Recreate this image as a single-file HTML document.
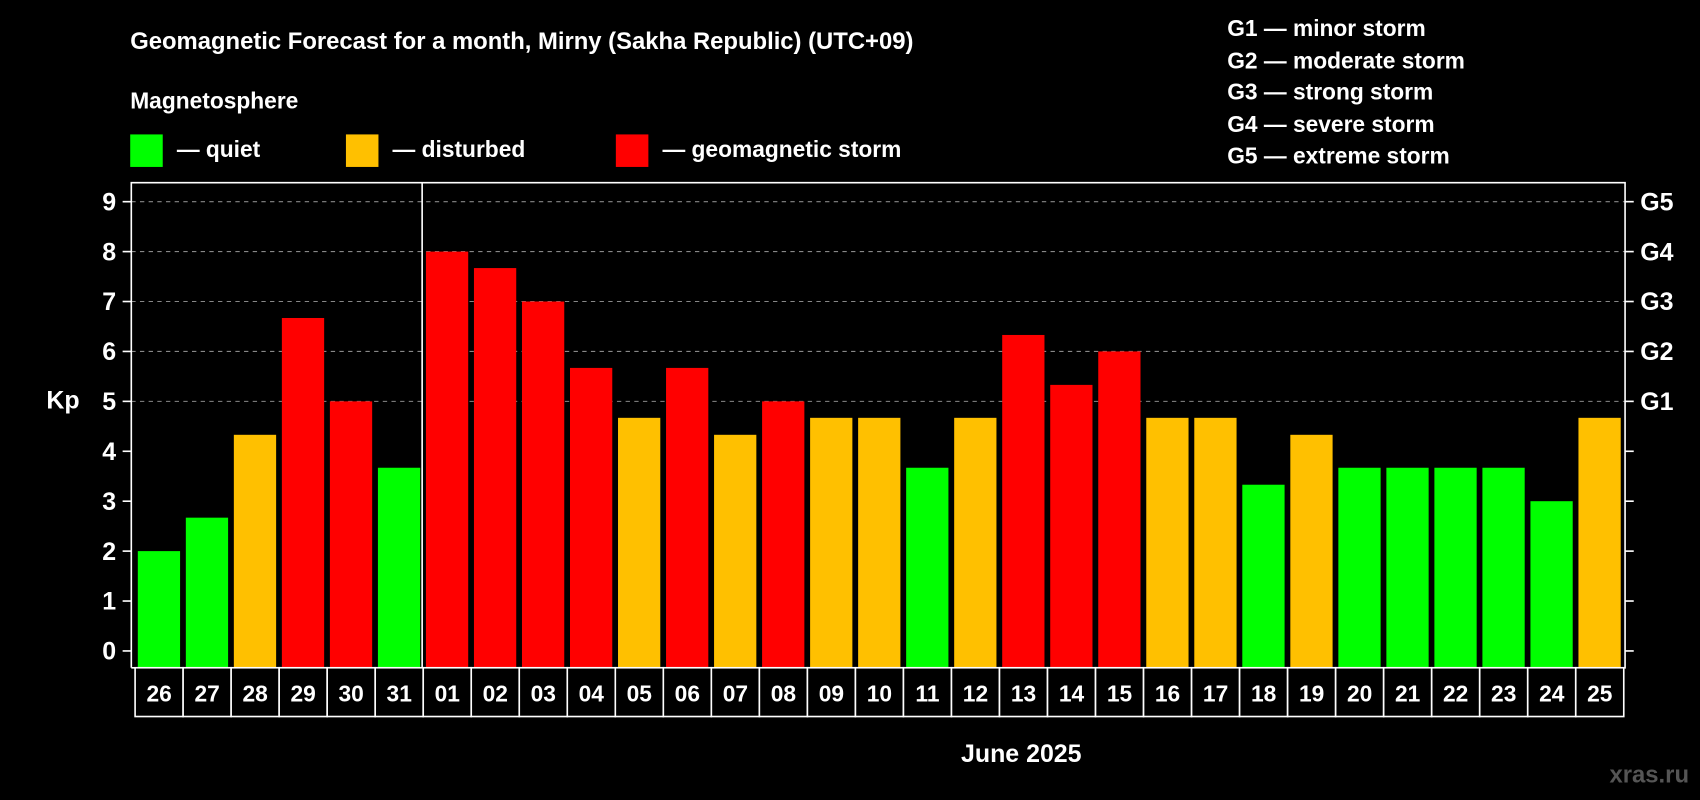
<!DOCTYPE html>
<html><head><meta charset="utf-8"><style>
html,body{margin:0;padding:0;background:#000;}
svg{display:block;font-family:"Liberation Sans",Arial,sans-serif;font-weight:bold;}
</style></head><body>
<svg id="chart" width="1700" height="800" viewBox="0 0 1568 738" xmlns="http://www.w3.org/2000/svg">
<rect width="1568" height="738" fill="#000"/>
<text x="120" y="45" fill="#fff" font-size="22">Geomagnetic Forecast for a month, Mirny (Sakha Republic) (UTC+09)</text>
<text x="120" y="100" fill="#fff" font-size="21">Magnetosphere</text>
<g><rect x="120" y="124" width="30" height="30" fill="#00ff00"/><text x="163" y="145" fill="#fff" font-size="21">— quiet</text></g>
<g><rect x="319" y="124" width="30" height="30" fill="#ffc000"/><text x="362" y="145" fill="#fff" font-size="21">— disturbed</text></g>
<g><rect x="568" y="124" width="30" height="30" fill="#ff0000"/><text x="611" y="145" fill="#fff" font-size="21">— geomagnetic storm</text></g>
<g fill="#fff" font-size="21">
<text x="1132" y="33">G1 — minor storm</text>
<text x="1132" y="63">G2 — moderate storm</text>
<text x="1132" y="92">G3 — strong storm</text>
<text x="1132" y="122">G4 — severe storm</text>
<text x="1132" y="151">G5 — extreme storm</text>
</g>
<text x="58" y="377" fill="#fff" font-size="23" text-anchor="middle">Kp</text>
<text x="942" y="703" fill="#fff" font-size="23" text-anchor="middle">June 2025</text>
<text x="1558" y="722" fill="#555" font-size="22" text-anchor="end">xras.ru</text>
<g id="grid"></g><g id="bars"></g><g id="axes"></g><g id="cells"></g>
</svg>
<script>
const days=["26","27","28","29","30","31","01","02","03","04","05","06","07","08","09","10","11","12","13","14","15","16","17","18","19","20","21","22","23","24","25"];
const kp=[2,2.67,4.33,6.67,5,3.67,8,7.67,7,5.67,4.67,5.67,4.33,5,4.67,4.67,3.67,4.67,6.33,5.33,6,4.67,4.67,3.33,4.33,3.67,3.67,3.67,3.67,3,4.67];
const yTicks=[0,1,2,3,4,5,6,7,8,9];
const gLabels=["","","","","","G1","G2","G3","G4","G5"];
const NS="http://www.w3.org/2000/svg";
const L=121,R=1499,T=168.5,B=616,Y0=600.5,U=46.05,X0=124.5,STEP=44.3;
const y=v=>Y0-v*U, x=i=>X0+i*STEP;
function mk(tag,attrs,parent){const e=document.createElementNS(NS,tag);for(const k in attrs)e.setAttribute(k,attrs[k]);document.getElementById(parent).appendChild(e);return e;}
yTicks.forEach((t,i)=>{
  if(t>=5){const g=mk('line',{x1:L,x2:R,y1:y(t),y2:y(t),stroke:'#888','stroke-dasharray':'4,4','stroke-width':1},'grid');
  
  }
  const tl=mk('line',{x1:L-8,x2:L,y1:y(t),y2:y(t),stroke:'#fff','stroke-width':1.5},'axes');
  
  
  const tr=mk('line',{x1:R,x2:R+8,y1:y(t),y2:y(t),stroke:'#fff','stroke-width':1.5},'axes');
  
  
  const lab=mk('text',{x:L-14,y:y(t)+8,fill:'#fff','font-size':23,'text-anchor':'end'},'axes');lab.textContent=t;
  
  
  if(gLabels[i]){const gl=mk('text',{x:R+14,y:y(t)+8,fill:'#fff','font-size':23},'axes');gl.textContent=gLabels[i];
  
  }
});
kp.forEach((v,i)=>{
  const c=v>=5?'#ff0000':(v>=4?'#ffc000':'#00ff00');
  const b=mk('rect',{x:x(i)+2.5,y:y(v),width:39,height:B-y(v),fill:c},'bars');
  
  
  const cell=mk('rect',{x:x(i),y:B,width:STEP,height:45,fill:'#000',stroke:'#fff','stroke-width':1.5},'cells');
  
  
  const t=mk('text',{x:x(i)+STEP/2,y:B+31,fill:'#fff','font-size':21,'text-anchor':'middle'},'cells');t.textContent=days[i];
  
  
});
const box=mk('path',{d:`M${L},${B} V${T} H${R} V${B} H${L}`,fill:'none',stroke:'#fff','stroke-width':1.5},'axes');


const sep=mk('line',{x1:x(6)-1,x2:x(6)-1,y1:T,y2:B,stroke:'#fff','stroke-width':1.5},'axes');


</script>
</body></html>
